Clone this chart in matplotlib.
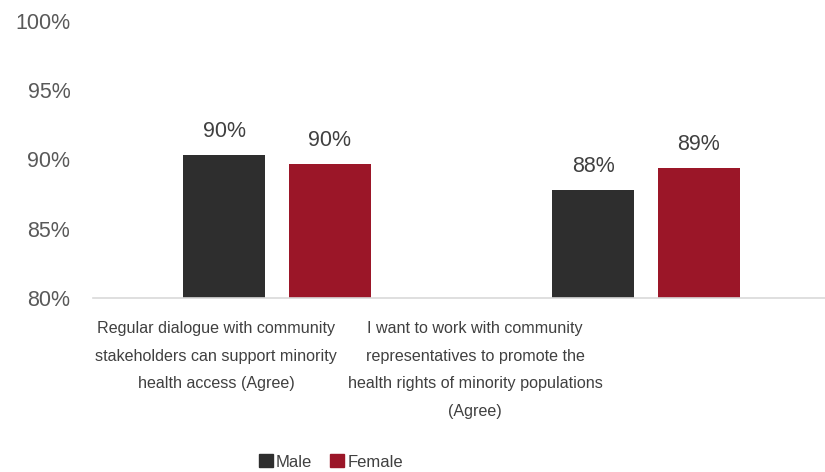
import matplotlib.pyplot as plt
from matplotlib.patches import Patch

# survey items and agreement shares by gender
categories = [
    "Regular dialogue with community\nstakeholders can support minority\nhealth access (Agree)",
    "I want to work with community\nrepresentatives to promote the\nhealth rights of minority populations\n(Agree)",
]
male = [90.3, 87.8]
female = [89.7, 89.4]
yticks = [80, 85, 90, 95, 100]

c_male = "#2e2e2e"
c_female = "#9b1628"
txt = "#595959"

fig = plt.figure(figsize=(8.25, 4.72), dpi=100)
ax = fig.add_axes([92.5 / 825, 1 - 298 / 472, 738 / 825, 277 / 472])

x = range(len(categories))
w = 0.222
off = 0.143
bm = ax.bar([i - off for i in x], [v - 80 for v in male], w, bottom=80, color=c_male)
bf = ax.bar([i + off for i in x], [v - 80 for v in female], w, bottom=80, color=c_female)

for bars, vals in ((bm, male), (bf, female)):
    for b, v in zip(bars, vals):
        ax.annotate(f"{v:.0f}%", (b.get_x() + b.get_width() / 2, v),
                    xytext=(0, 17), textcoords="offset points",
                    ha="center", va="center", fontsize=15.5, color="#404040",
                    family="Liberation Sans")

ax.set_xlim(-0.5, 1.5)
ax.set_ylim(80, 100)
ax.set_yticks(yticks)
ax.set_yticklabels([f"{t}%" for t in yticks], family="Liberation Sans",
                   fontsize=15.5, color=txt)
ax.tick_params(axis="y", length=0, pad=16)
ax.set_xticks([])
for s in ("top", "right", "left"):
    ax.spines[s].set_visible(False)
ax.spines["bottom"].set_color("#d9d9d9")
ax.spines["bottom"].set_linewidth(1.2)

# wrapped category labels under the axis
label_x = [-0.165, 0.537]
for lx, lab in zip(label_x, categories):
    ax.text(lx, -0.083, lab, transform=ax.get_xaxis_transform(),
            ha="center", va="top", fontsize=11.6, color="#404040",
            family="Liberation Sans", linespacing=2.06)

handles = [Patch(color=c_male, label="Male"), Patch(color=c_female, label="Female")]
fig.legend(handles=handles, loc="center", bbox_to_anchor=(331 / 825, 1 - 462 / 472),
           ncol=2, frameon=False, handlelength=0.8, handleheight=0.8,
           handletextpad=0.2, columnspacing=1.1,
           prop={"family": "Liberation Sans", "size": 12},
           labelcolor="#404040")

fig.savefig("out.png", dpi=100)
